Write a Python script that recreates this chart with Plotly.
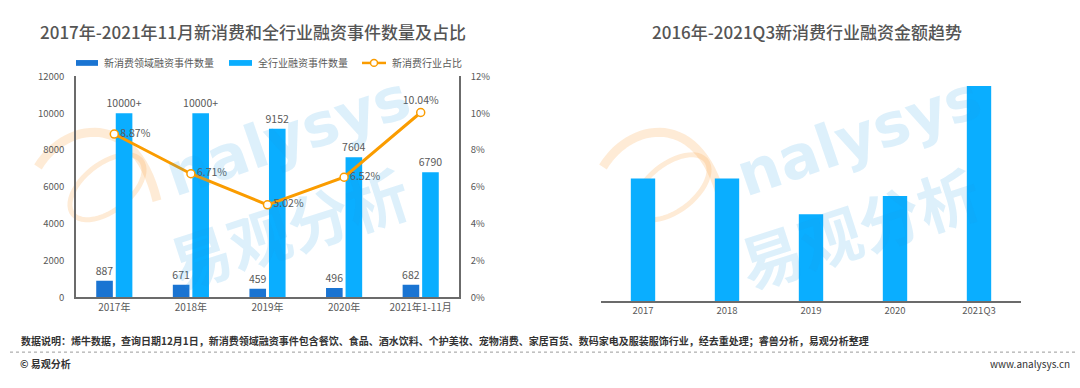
import math
import plotly.graph_objects as go

# ---------------- data ----------------
years_left = ["2017年", "2018年", "2019年", "2020年", "2021年1-11月"]
new_consumer_events = [887, 671, 459, 496, 682]
all_industry_events = [10000, 10000, 9152, 7604, 6790]
all_industry_labels = ["10000+", "10000+", "9152", "7604", "6790"]
new_consumer_share = [0.0887, 0.0671, 0.0502, 0.0652, 0.1004]
share_labels = ["8.87%", "6.71%", "5.02%", "6.52%", "10.04%"]
share_label_pos = ["middle right", "middle right", "middle right", "middle right", "top center"]

years_right = ["2017", "2018", "2019", "2020", "2021Q3"]
funding_amount_index = [127, 127, 90, 109, 223]  # relative amounts

left_title = "2017年-2021年11月新消费和全行业融资事件数量及占比"
right_title = "2016年-2021Q3新消费行业融资金额趋势"
legend_names = ["新消费领域融资事件数量", "全行业融资事件数量", "新消费行业占比"]
note_text = ("数据说明：烯牛数据，查询日期12月1日，新消费领域融资事件包含餐饮、食品、酒水饮料、个护美妆、"
             "宠物消费、家居百货、数码家电及服装服饰行业，经去重处理；睿兽分析，易观分析整理")

# ---------------- style ----------------
W, H = 1080, 388
FONT = "Noto Sans CJK SC, Noto Sans, sans-serif"
DARK = "#1a74d2"
LIGHT = "#0aaeff"
ORANGE = "#fa9c00"
TXT = "#595959"
AXIS = "#6b6b6b"


def px(x):
    return x / W


def py(y):
    return 1 - y / H


fig = go.Figure()

fig.add_trace(go.Bar(
    x=years_left, y=new_consumer_events, name=legend_names[0],
    marker=dict(color=DARK, line=dict(width=0)),
    text=[str(v) for v in new_consumer_events], textposition="outside",
    constraintext="none",
    textfont=dict(size=10.5, color=TXT, family=FONT), cliponaxis=False,
    xaxis="x", yaxis="y", showlegend=False))
fig.add_trace(go.Bar(
    x=years_left, y=all_industry_events, name=legend_names[1],
    marker=dict(color=LIGHT, line=dict(width=0)),
    text=all_industry_labels, textposition="outside",
    constraintext="none",
    textfont=dict(size=10.5, color=TXT, family=FONT), cliponaxis=False,
    xaxis="x", yaxis="y", showlegend=False))
fig.add_trace(go.Scatter(
    x=years_left, y=new_consumer_share, name=legend_names[2],
    mode="lines+markers+text",
    line=dict(color=ORANGE, width=3),
    marker=dict(size=8, color="white", line=dict(color=ORANGE, width=1.5)),
    text=share_labels, textposition=share_label_pos,
    textfont=dict(size=10.5, color=TXT, family=FONT), cliponaxis=False,
    xaxis="x", yaxis="y2", showlegend=False))

fig.add_trace(go.Bar(
    x=years_right, y=funding_amount_index, width=0.29,
    marker=dict(color=LIGHT, line=dict(width=0)),
    xaxis="x3", yaxis="y3", showlegend=False))

fig.update_layout(
    width=W, height=H,
    margin=dict(l=0, r=0, t=0, b=0),
    paper_bgcolor="white", plot_bgcolor="rgba(0,0,0,0)",
    font=dict(family=FONT, color=TXT),
    barmode="group", bargap=0.49, bargroupgap=0.15,
    xaxis=dict(domain=[px(76), px(459)], anchor="y", type="category",
               showline=True, linecolor=AXIS, linewidth=1.5, ticks="",
               showgrid=False, tickfont=dict(size=10, color=TXT)),
    yaxis=dict(domain=[py(300), py(71)], range=[0, 12000], dtick=2000,
               tickformat="d",
               showline=True, linecolor=AXIS, linewidth=1.5, showgrid=False,
               zeroline=False, ticks="", ticklabelstandoff=8,
               tickfont=dict(size=9.5, color=TXT)),
    yaxis2=dict(overlaying="y", side="right", anchor="x", range=[0, 0.12],
                dtick=0.02, tickformat=".0%", showline=True, linecolor=AXIS,
                linewidth=1.5, showgrid=False, zeroline=False, ticks="",
                ticklabelstandoff=8, tickfont=dict(size=9.5, color=TXT)),
    xaxis3=dict(domain=[px(601), px(1021)], anchor="y3", type="category",
                showline=True, linecolor=AXIS, linewidth=2, ticks="",
                showgrid=False, tickfont=dict(size=9.5, color=TXT)),
    yaxis3=dict(domain=[py(304), py(64)], range=[0, 240], visible=False),
)

shapes = []
annotations = []


def text_at(text, x, y, size, color, xanchor="center", weight="normal"):
    annotations.append(dict(text=text, x=px(x), y=py(y), xref="paper", yref="paper",
                            showarrow=False, xanchor=xanchor, yanchor="middle",
                            font=dict(size=size, color=color, family=FONT, weight=weight)))


# titles
text_at(left_title, 253, 24, 17, "#555555", weight=500)
text_at(right_title, 807, 24, 17, "#555555", weight=500)

# manual legend
ly = 57
shapes.append(dict(type="rect", xref="paper", yref="paper", x0=px(76), x1=px(98),
                   y0=py(ly + 3), y1=py(ly - 3), fillcolor=DARK, line=dict(width=0)))
shapes.append(dict(type="rect", xref="paper", yref="paper", x0=px(229), x1=px(252),
                   y0=py(ly + 3), y1=py(ly - 3), fillcolor=LIGHT, line=dict(width=0)))
shapes.append(dict(type="line", xref="paper", yref="paper", x0=px(362), x1=px(386),
                   y0=py(ly), y1=py(ly), line=dict(color=ORANGE, width=2.5)))
shapes.append(dict(type="circle", xref="paper", yref="paper", x0=px(370.5), x1=px(377.5),
                   y0=py(ly + 3.5), y1=py(ly - 3.5), fillcolor="white",
                   line=dict(color=ORANGE, width=1.5)))
for lx, name in zip([102, 256, 390], legend_names):
    text_at(name, lx, ly, 10, TXT, xanchor="left")

# footer
text_at(note_text, 19, 345, 10, "#333333", xanchor="left", weight="bold")
shapes.append(dict(type="line", xref="paper", yref="paper", x0=px(10), x1=px(1076),
                   y0=py(357), y1=py(357), line=dict(color="#9a9a9a", width=1, dash="dot")))
text_at("© 易观分析", 18, 369, 10, "#333333", xanchor="left", weight="bold")
text_at("www.analysys.cn", 1072, 369, 10, "#333333", xanchor="right")


# watermark (decorative)
def to_path(pts, closed=False):
    s = "M " + " L ".join(f"{px(a):.5f},{py(b):.5f}" for a, b in pts)
    return s + (" Z" if closed else "")


def ellipse_pts(cx, cy, rx, ry, rot_deg, n=48):
    r = math.radians(rot_deg)
    pts = []
    for i in range(n + 1):
        t = 2 * math.pi * i / n
        ex, ey = rx * math.cos(t), ry * math.sin(t)
        pts.append((cx + ex * math.cos(r) - ey * math.sin(r),
                    cy + ex * math.sin(r) + ey * math.cos(r)))
    return pts


def bezier(p0, p1, p2, p3, n=30):
    out = []
    for i in range(n + 1):
        t = i / n
        a = (1 - t) ** 3
        b = 3 * (1 - t) ** 2 * t
        c = 3 * (1 - t) * t ** 2
        d = t ** 3
        out.append((a * p0[0] + b * p1[0] + c * p2[0] + d * p3[0],
                    a * p0[1] + b * p1[1] + c * p2[1] + d * p3[1]))
    return out


WM_BLUE = "rgba(30,155,230,0.15)"
WM_ORANGE = "rgba(252,165,70,0.22)"
for dx in (-565, 0):
    swoosh = bezier((603 + dx, 165), (630 + dx, 118), (700 + dx, 105), (722 + dx, 200))
    shapes.append(dict(type="path", xref="paper", yref="paper", layer="below",
                       path=to_path(swoosh), line=dict(color=WM_ORANGE, width=9)))
    shapes.append(dict(type="path", xref="paper", yref="paper", layer="below",
                       path=to_path(ellipse_pts(672 + dx, 186, 44, 24, -40), closed=True),
                       line=dict(color=WM_ORANGE, width=5)))

for dx in (0, 571):
    annotations.append(dict(text="<b>nalysys</b>", x=px(287 + dx), y=py(133), xref="paper",
                            yref="paper", showarrow=False, textangle=-19,
                            xanchor="center", yanchor="middle",
                            font=dict(size=60, color=WM_BLUE, family="DejaVu Sans")))
    annotations.append(dict(text="<b>易观分析</b>", x=px(288 + dx), y=py(226), xref="paper",
                            yref="paper", showarrow=False, textangle=-18,
                            xanchor="center", yanchor="middle",
                            font=dict(size=62, color=WM_BLUE, family=FONT)))

fig.update_layout(shapes=shapes, annotations=annotations)
fig.write_html("out.html", config={"displayModeBar": False},
               post_script="document.body.style.margin='0';")
